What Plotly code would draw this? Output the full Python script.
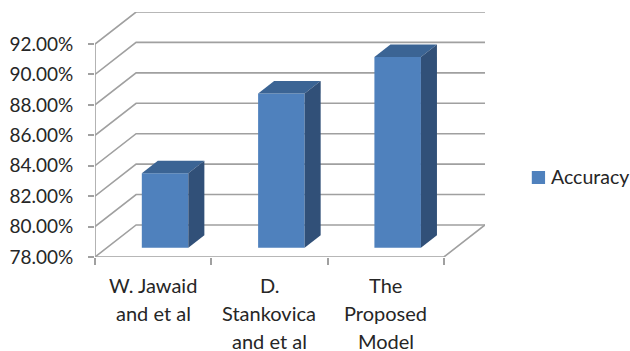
import plotly.graph_objects as go

categories = ["W. Jawaid and et al", "D. Stankovica and et al", "The Proposed Model"]
category_lines = [["W. Jawaid", "and et al"], ["D.", "Stankovica", "and et al"], ["The", "Proposed", "Model"]]
series_name = "Accuracy"
accuracy = [82.9, 88.13, 90.53]
y_ticks = [78, 80, 82, 84, 86, 88, 90, 92]

FONT = "Lato"
FS = 19
TXT = "#262626"
GRID = "#a0a0a0"
FRONT, TOP, SIDE = "#4f81bd", "#3b6494", "#315078"

# oblique projection of the depth axis, in axis units
DX, DY = 41 / 116, 32 / 15.2
BAR_W = 0.40
D_FRONT, D_BACK = 0.29, 0.68
BASE = y_ticks[0]
xpos = list(range(len(categories)))
XL, XR = -0.5, len(categories) - 0.5

# walls and floor
gx, gy = [XL, XL, None], [BASE, y_ticks[-1], None]
for v in y_ticks:
    gx += [XL, XL + DX, XR + DX, None]
    gy += [v, v + DY, v + DY, None]
gx += [XL, XR, XR + DX]
gy += [BASE, BASE, BASE + DY]

fig = go.Figure()
fig.add_trace(go.Scatter(x=gx, y=gy, mode="lines", line=dict(color=GRID, width=1.6),
                         showlegend=False, hoverinfo="skip"))

fx = [x + D_FRONT * DX for x in xpos]
fig.add_trace(go.Bar(x=fx, y=[v - BASE for v in accuracy], base=BASE + D_FRONT * DY,
                     width=BAR_W, name=series_name, marker=dict(color=FRONT, line=dict(width=0)),
                     xaxis="x2", yaxis="y2", showlegend=False))

for x, v in zip(fx, accuracy):
    l, r = x - BAR_W / 2, x + BAR_W / 2
    t0 = v + D_FRONT * DY
    t1 = v + D_BACK * DY
    b0 = BASE + D_FRONT * DY
    b1 = BASE + D_BACK * DY
    dd = (D_BACK - D_FRONT) * DX
    fig.add_trace(go.Scatter(x=[l, r, r + dd, l + dd, l], y=[t0, t0, t1, t1, t0], mode="lines",
                             fill="toself", fillcolor=TOP, line=dict(width=0), xaxis="x2", yaxis="y2",
                             showlegend=False, hoverinfo="skip"))
    fig.add_trace(go.Scatter(x=[r, r + dd, r + dd, r, r], y=[t0, t1, b1, b0, t0], mode="lines",
                             fill="toself", fillcolor=SIDE, line=dict(width=0), xaxis="x2", yaxis="y2",
                             showlegend=False, hoverinfo="skip"))

xr = [XL, XR + DX]
yr = [BASE, y_ticks[-1] + DY]
annotations = []
for x, lines in zip(xpos, category_lines):
    for i, line in enumerate(lines):
        annotations.append(dict(text=line, x=x, y=0, xref="x", yref="paper", xanchor="center", yanchor="middle",
                                yshift=-(28 + 28 * i), showarrow=False, height=22, valign="middle",
                                font=dict(family=FONT, size=20, color=TXT)))
# legend key and label, placed in the plot's paper coordinates
annotations.append(dict(text=series_name, x=1.169, y=0.327, xref="paper", yref="paper", xanchor="left",
                        yanchor="middle", showarrow=False, xshift=-2,
                        font=dict(family=FONT, size=19.5, color=TXT)))
legend_key = dict(type="rect", xref="paper", yref="paper", x0=1.12, x1=1.154, y0=0.298, y1=0.351,
                  fillcolor=FRONT, line=dict(width=0))

fig.update_layout(
    width=630, height=351, autosize=False,
    margin=dict(l=95, r=145, t=12, b=94, pad=0, autoexpand=False),
    paper_bgcolor="white", plot_bgcolor="white",
    barmode="overlay", showlegend=False,
    xaxis=dict(range=xr, automargin=False, showgrid=False, zeroline=False, showline=False, tickmode="array",
               tickvals=[], minor=dict(tickmode="array", tickvals=[x - 0.5 for x in xpos] + [XR],
                                       ticks="outside", ticklen=7, tickwidth=1.6, tickcolor=GRID, showgrid=False)),
    yaxis=dict(range=yr, automargin=False, showgrid=False, zeroline=False, showline=False, tickmode="array",
               tickvals=y_ticks, ticktext=[f"{v:.2f}%" for v in y_ticks], ticks="outside", ticklen=6,
               tickwidth=1.6, tickcolor=GRID, ticklabelstandoff=11,
               tickfont=dict(family=FONT, size=FS, color=TXT)),
    xaxis2=dict(range=xr, overlaying="x", visible=False),
    yaxis2=dict(range=yr, overlaying="y", visible=False),
    shapes=[legend_key],
    annotations=annotations,
)
fig.write_html("out.html", config={"displayModeBar": False},
               post_script="document.documentElement.style.margin='0';document.body.style.margin='0';")
